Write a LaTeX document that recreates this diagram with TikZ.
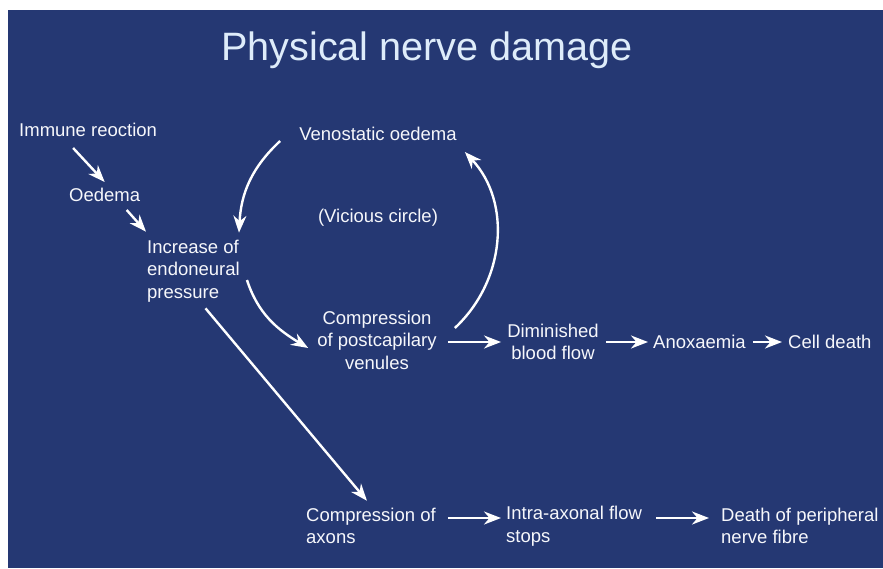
\documentclass[tikz,border=0pt]{standalone}
\usepackage{fontspec}
\setmainfont{Liberation Sans}
\usepackage{tikz}
\usetikzlibrary{positioning, arrows.meta, calc}
\definecolor{SlideBlue}{RGB}{37, 56, 115}
\definecolor{TitleBlue}{RGB}{222, 236, 250}
\definecolor{LabelWhite}{RGB}{246, 247, 251}

\begin{document}
\begin{tikzpicture}[x=1pt, y=1pt,
    lbl/.style={text=LabelWhite, inner sep=2pt, font=\fontsize{18.5}{22.5}\selectfont},
    arr/.style={-{Stealth[length=17pt, width=13pt, inset=5.5pt]}, line width=2.4pt, white}]
    % Background
    \fill[white] (0,0) rectangle (883,-568);
    \fill[SlideBlue] (8,-10) rectangle (883,-568);
    \useasboundingbox (0,0) rectangle (883,-568);

    % Title
    \node[text=TitleBlue, font=\fontsize{39.6}{47}\selectfont] (title) at (427,-50) {Physical nerve damage};

    % Left chain
    \node[lbl, anchor=west] (immune) at (17,-130) {Immune reoction};
    \node[lbl, anchor=west] (oedema) at (67,-195) {Oedema};
    \node[lbl, anchor=west, align=left] (incr) at (145,-271) {Increase of\\endoneural\\pressure};

    % Vicious circle
    \node[lbl] (veno) at (378,-134) {Venostatic oedema};
    \node[lbl] (vicious) at (378,-218) {(Vicious circle)};
    \node[lbl, align=center] (comp) at (377,-340) {Compression\\of postcapilary\\venules};

    % Blood flow row
    \node[lbl, align=center] (dimin) at (553,-342) {Diminished\\blood flow};
    \node[lbl, anchor=west] (anox) at (651,-342) {Anoxaemia};
    \node[lbl, anchor=west] (cell) at (786,-342) {Cell death};

    % Axon row
    \node[lbl, anchor=west, align=left] (axons) at (304,-526) {Compression of\\axons};
    \node[lbl, anchor=west, align=left] (intra) at (504,-526) {Intra-axonal flow\\stops};
    \node[lbl, anchor=west, align=left] (death) at (719,-526) {Death of peripheral\\nerve fibre};

    % Connectors
    \draw[arr] ([xshift=-15pt, yshift=-9pt]immune.south) -- ([yshift=4pt]oedema.north);
    \draw[arr] ([xshift=22pt, yshift=-6pt]oedema.south) -- ([xshift=1pt, yshift=6pt]incr.north west);
    \draw[arr] ([xshift=-17pt, yshift=-7pt]veno.west) to[out=223, in=87] ([xshift=-3pt, yshift=5pt]incr.north east);
    \draw[arr] ([xshift=5pt, yshift=-9pt]incr.east) to[out=288, in=149] ([xshift=-7pt, yshift=-8pt]comp.west);
    \draw[arr] ([xshift=16pt, yshift=12pt]comp.east) to[out=43, in=-47] ([xshift=6pt, yshift=-9pt]veno.south east);
    \draw[arr] ([xshift=12pt, yshift=-4pt]incr.south) -- ([xshift=-4pt, yshift=5pt]axons.north);

    \draw[arr, shorten <=9pt, shorten >=4pt] (comp.east |- dimin) -- (dimin.west);
    \draw[arr, shorten <=5pt, shorten >=3pt] (dimin.east |- anox) -- (anox.west);
    \draw[arr, shorten <=5pt, shorten >=4pt] (anox.east) -- (cell.west);

    \draw[arr, shorten <=10pt, shorten >=3pt] ([yshift=8pt]axons.east) -- ([yshift=8pt]axons.east -| intra.west);
    \draw[arr, shorten <=12pt, shorten >=10pt] ([yshift=8pt]intra.east) -- ([yshift=8pt]intra.east -| death.west);
\end{tikzpicture}
\end{document}
